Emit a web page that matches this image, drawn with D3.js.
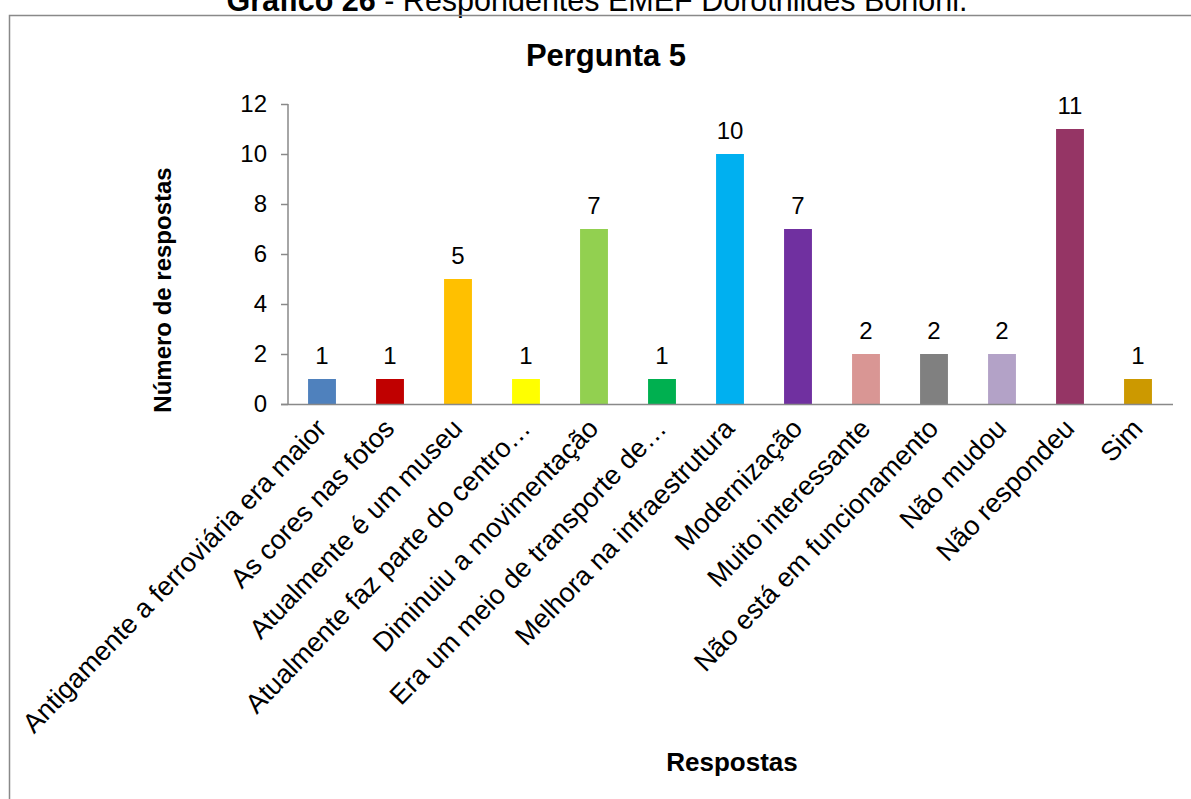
<!DOCTYPE html>
<html><head><meta charset="utf-8">
<script src="https://cdn.jsdelivr.net/npm/d3@7"></script>
<style>body{margin:0;background:#fff}svg{display:block;font-family:Arial,"Liberation Sans",sans-serif}</style>
</head><body><svg id="c" width="1191" height="799"></svg>
<script>
const categories = ["Antigamente a ferroviária era maior","As cores nas fotos","Atualmente é um museu","Atualmente faz parte do centro…","Diminuiu a movimentação","Era um meio de transporte de…","Melhora na infraestrutura","Modernização","Muito interessante","Não está em funcionamento","Não mudou","Não respondeu","Sim"];
const values = [1,1,5,1,7,1,10,7,2,2,2,11,1];
const colors = ["#4F81BD","#C00000","#FFC000","#FFFF00","#92D050","#00B050","#00B0F0","#7030A0","#D99694","#808080","#B3A2C7","#953565","#CC9900"];
const yTicks = [0,2,4,6,8,10,12];

const svg = d3.select("#c");
// outer caption (cut at top)
svg.append("text").attr("x",597).attr("y",11).attr("text-anchor","middle").attr("font-size",30.5)
  .html('<tspan font-weight="bold">Gráfico 26</tspan> - Respondentes EMEF Dorothildes Bononi.');
// chart frame
svg.append("path").attr("d","M9.5,820 V15.5 H1200").attr("fill","none").attr("stroke","#898989").attr("stroke-width",1.5);

svg.append("text").attr("x",606).attr("y",66).attr("text-anchor","middle").attr("font-size",31).attr("font-weight","bold").text("Pergunta 5");

const x = d3.scaleBand().domain(categories).range([288,1172]).paddingInner(0.59).paddingOuter(0.295);
const y = d3.scaleLinear().domain([0,12]).range([404,104]);

const ya = svg.append("g").attr("transform","translate(288,0)")
  .call(d3.axisLeft(y).tickValues(yTicks).tickSize(7).tickPadding(14));
ya.select(".domain").attr("stroke","#898989").attr("stroke-width",1.5).attr("d","M0,104V404");
ya.selectAll(".tick line").attr("stroke","#898989").attr("stroke-width",1.5);
ya.selectAll(".tick text").attr("font-size",24).attr("fill","#000").attr("font-family","Arial,'Liberation Sans',sans-serif");

svg.append("g").selectAll("rect").data(values).join("rect")
  .attr("x",(d,i)=>x(categories[i])).attr("width",x.bandwidth())
  .attr("y",d=>y(d)).attr("height",d=>y(0)-y(d)).attr("fill",(d,i)=>colors[i]);

svg.append("line").attr("x1",281).attr("x2",1173).attr("y1",404.5).attr("y2",404.5).attr("stroke","#898989").attr("stroke-width",1.5);

svg.append("g").selectAll("text").data(values).join("text")
  .attr("x",(d,i)=>x(categories[i])+x.bandwidth()/2).attr("y",d=>y(d)-15.5)
  .attr("text-anchor","middle").attr("font-size",24).text(d=>d);

svg.append("g").selectAll("text").data(categories).join("text")
  .attr("transform",d=>`translate(${x(d)+x.bandwidth()/2+6},${430}) rotate(-46)`)
  .attr("text-anchor","end").attr("font-size",27).text(d=>d);

svg.append("text").attr("transform","translate(171,290) rotate(-90)").attr("text-anchor","middle")
  .attr("font-size",24).attr("font-weight","bold").text("Número de respostas");
svg.append("text").attr("x",732).attr("y",771).attr("text-anchor","middle")
  .attr("font-size",26).attr("font-weight","bold").text("Respostas");
</script></body></html>
